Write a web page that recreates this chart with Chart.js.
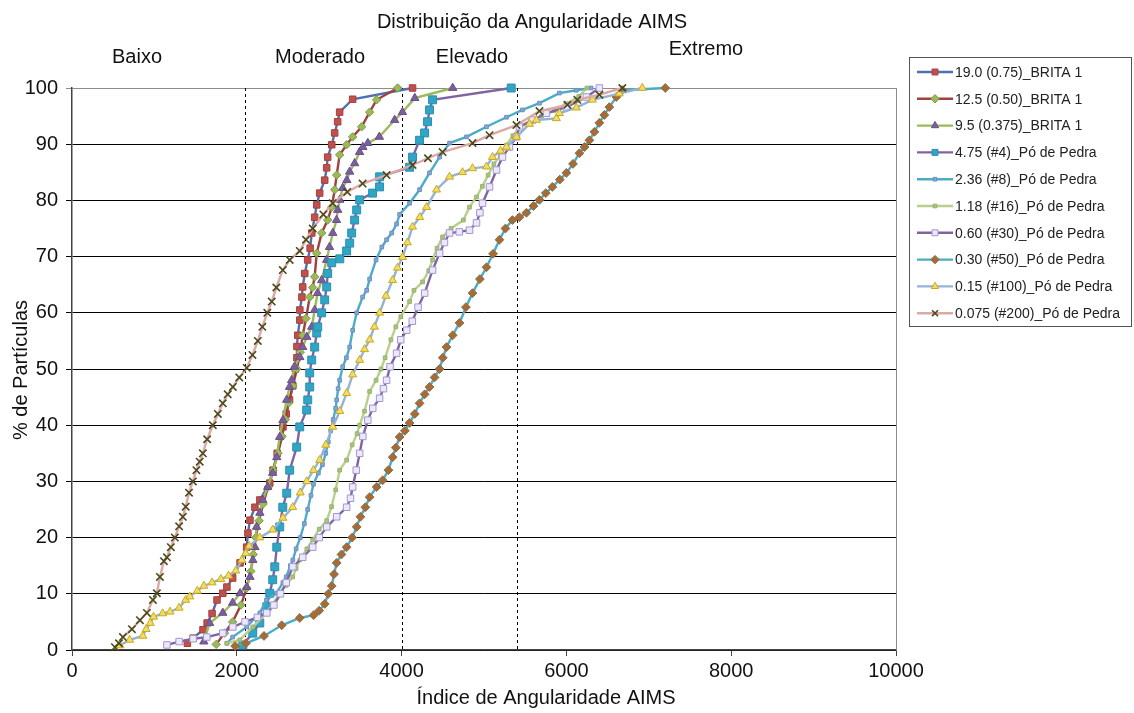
<!DOCTYPE html>
<html lang="pt">
<head>
<meta charset="utf-8">
<title>Distribuição da Angularidade AIMS</title>
<script src="https://cdn.jsdelivr.net/npm/chart.js@4.4.1/dist/chart.umd.min.js"></script>
<style>
  html, body { margin: 0; padding: 0; background: #fff; }
  canvas { display: block; }
</style>
</head>
<body>
<canvas id="grafico" width="1134" height="713"></canvas>
<script>
// pontos [índice de angularidade AIMS, % acumulada de partículas] por fração
const brita190 = [[1400,1.2],[1470,2.1],[1590,3.6],[1640,4.8],[1700,6.5],[1760,8.9],[1830,10.1],[1880,11.2],[1950,12.8],[2040,15.5],[2120,18.3],[2135,20.8],[2160,23.1],[2220,25.4],[2280,26.7],[2400,29.7],[2440,32],[2490,35],[2560,39.7],[2600,42],[2640,44.5],[2680,47],[2710,50],[2730,52],[2730,54],[2740,56],[2765,58.7],[2765,60.5],[2790,62.8],[2800,64.6],[2825,67],[2860,69.4],[2890,71.5],[2910,74.2],[2945,77],[2970,79.2],[3006,81.3],[3067,83.6],[3091,85.8],[3103,87.7],[3152,89.9],[3188,92],[3224,94],[3248,95.7],[3406,98],[4133,100]];
const brita125 = [[1750,1],[1850,3],[1950,5],[2050,8],[2120,11],[2170,14],[2200,17],[2230,20],[2270,23],[2320,26],[2380,29],[2440,32],[2500,35],[2550,38],[2590,41],[2630,44],[2680,47],[2730,50],[2770,53],[2800,56],[2840,59],[2885,62.8],[2920,64.5],[2945,66.4],[2970,70.6],[3030,74.2],[3103,76.5],[3152,78.8],[3188,81.9],[3212,84.5],[3248,88.1],[3333,89.9],[3406,91.3],[3515,93.1],[3612,95.7],[3697,97.9],[3952,100]];
const brita95 = [[1600,1.5],[1670,4.8],[1830,6.6],[1950,8.4],[2040,10.1],[2120,11.2],[2160,13],[2195,16],[2220,18.3],[2240,21.9],[2280,24.4],[2315,26.7],[2375,29],[2435,31.5],[2485,34.3],[2520,37.9],[2560,40.9],[2605,44.5],[2640,46.8],[2665,48],[2700,50.4],[2765,52.1],[2800,53.9],[2850,55.7],[2910,57.5],[2945,60.5],[2980,63.5],[3030,65.8],[3090,69.4],[3125,71.7],[3165,74.2],[3210,76.5],[3225,78.3],[3250,80.1],[3285,82.2],[3335,83.6],[3370,85.1],[3430,86.6],[3490,88.6],[3530,89.5],[3590,90.2],[3730,91.3],[3915,94.3],[4010,95.7],[4160,98.2],[4620,100]];
const po475 = [[2073,0.9],[2194,3],[2279,4.8],[2364,7.7],[2400,10.1],[2436,12.5],[2461,14.8],[2485,18.3],[2521,21.9],[2558,25.4],[2606,27.9],[2642,32],[2727,36.1],[2764,39.7],[2848,42.7],[2861,44.5],[2885,46.8],[2885,49.3],[2909,51.6],[2945,53.9],[2970,56.4],[2982,57.5],[3030,60],[3067,62.3],[3091,64.6],[3103,67],[3152,68.9],[3250,69.6],[3333,71],[3370,72.4],[3394,74.2],[3430,76.5],[3455,78.3],[3491,80.1],[3648,81.3],[3733,82.4],[3733,84.2],[4097,85.9],[4133,87.7],[4218,90.7],[4279,92],[4315,94],[4339,96.1],[4376,97.9],[5330,100]];
const po236 = [[1880,1.2],[1950,2.3],[2120,4.1],[2280,6.6],[2360,8.9],[2480,10.1],[2560,12],[2600,13],[2650,15],[2680,16],[2720,18],[2770,20],[2820,22.5],[2860,25],[2900,27.5],[2930,29.5],[2990,31.5],[3040,33],[3080,35],[3110,37],[3140,39],[3170,41],[3200,43],[3212,44.5],[3230,46.5],[3248,48],[3285,50.4],[3330,52],[3370,53.9],[3406,56.9],[3455,60],[3527,62.8],[3576,64],[3612,66],[3690,69.4],[3760,71.7],[3818,73],[3880,74.2],[3939,75.8],[3976,77.5],[4097,79.5],[4218,81.9],[4339,84.9],[4461,87.7],[4582,90.2],[4788,91.3],[5030,93.1],[5273,94.8],[5467,96.1],[5673,97.3],[5915,99.1],[6120,99.6],[6300,100]];
const po118 = [[1880,1.2],[2036,1.8],[2194,4.1],[2364,6.6],[2521,10.1],[2600,11.5],[2679,13],[2720,14.5],[2764,16],[2850,18],[2921,19.6],[3000,21.5],[3091,23],[3150,25.5],[3200,28.5],[3248,32],[3333,33.8],[3400,36.5],[3460,38.5],[3491,40],[3550,42.5],[3612,46],[3690,48],[3750,50],[3800,52],[3870,55.2],[3930,57.5],[3990,59.3],[4097,62],[4150,64],[4255,65.5],[4330,67.5],[4376,69.4],[4430,71.5],[4497,73.5],[4600,75],[4750,76.5],[4824,78.8],[4909,80.6],[4980,82.5],[5050,84.5],[5120,86.5],[5200,88],[5270,89.8],[5350,91.5],[5430,93],[5560,94],[5700,95],[5850,96],[6000,97.2],[6150,98.5],[6250,100]];
const po060 = [[1152,0.9],[1300,1.5],[1470,2],[1636,2.3],[1830,3],[1952,4.1],[2100,5],[2250,5.8],[2364,6.6],[2450,8],[2530,10],[2600,12],[2680,14.8],[2800,16.5],[2921,18.3],[3000,20],[3091,21.9],[3212,23.7],[3333,25.4],[3380,27],[3406,29],[3450,32],[3491,35],[3530,38],[3590,40.9],[3650,43],[3733,44.8],[3780,46.5],[3818,48],[3860,50.4],[3939,52.8],[3990,55.2],[4061,56.9],[4130,58.5],[4200,61],[4280,63.5],[4376,67.6],[4461,70.6],[4520,72.5],[4582,74.2],[4700,74.4],[4824,74.7],[4909,76],[4950,77.8],[4982,79.5],[5067,82.4],[5152,85.4],[5224,87.7],[5309,89.5],[5394,91.3],[5430,93.1],[5588,94.3],[5758,95.5],[6000,96.6],[6242,98.4],[6400,100]];
const po030 = [[1980,0.7],[2110,1.2],[2330,2.5],[2545,4.4],[2764,5.7],[2933,6.2],[3000,7],[3067,8.2],[3110,10],[3152,11.4],[3180,13.5],[3212,15.5],[3270,17],[3333,18.3],[3400,20],[3455,21.9],[3500,23.7],[3560,25.4],[3612,27.2],[3697,29],[3770,30.2],[3840,32],[3891,34.3],[3930,36],[3976,37.9],[4040,39],[4097,40.4],[4160,42],[4218,43.9],[4280,45.5],[4339,46.8],[4400,48.5],[4461,50],[4500,52],[4545,53.9],[4620,56],[4703,58.2],[4780,61],[4861,63.5],[4950,66],[5030,68.1],[5110,70.5],[5188,73],[5260,75],[5345,76.5],[5430,77],[5515,77.8],[5600,79],[5673,80.1],[5750,81.3],[5830,82.4],[5920,83.7],[6000,84.9],[6080,86.5],[6158,88.4],[6220,89.5],[6279,90.7],[6340,92.2],[6400,93.8],[6460,95.2],[6521,96.6],[6606,98.4],[6679,99.6],[7200,100]];
const po015 = [[580,0.8],[700,1.8],[860,2.5],[900,3.7],[950,4.8],[990,5.9],[1100,6.5],[1190,6.8],[1300,7.5],[1380,8.9],[1430,9.5],[1520,10.5],[1600,11.4],[1700,12],[1806,12.6],[1900,13.2],[1988,14.1],[2061,16],[2109,17.2],[2150,18.5],[2279,20],[2436,21.4],[2560,23.5],[2679,25.4],[2770,28],[2848,30],[2930,32],[3006,33.8],[3080,36.5],[3164,39.7],[3250,42.5],[3333,45.7],[3406,49],[3491,51.6],[3550,53.5],[3612,55.2],[3670,57.5],[3733,60],[3810,63],[3891,65.8],[3950,68],[4012,69.9],[4070,72.5],[4133,75.3],[4220,77],[4303,78.8],[4424,81.9],[4582,84.2],[4739,85],[4861,85.7],[5030,86],[5103,87.7],[5200,88.8],[5273,89.5],[5394,91.3],[5552,93.6],[5636,94.3],[5879,94.6],[5915,95.5],[6120,96.5],[6315,97.9],[6642,99],[6921,100]];
const po0075 = [[521,0.5],[570,1.2],[618,2.3],[727,3.7],[824,5.3],[909,6.6],[982,8.9],[1030,10.1],[1067,13],[1115,15.8],[1152,16.5],[1200,18.3],[1248,20],[1300,22],[1345,23.7],[1380,25.5],[1420,28],[1467,30],[1510,32],[1550,33.5],[1588,35],[1640,37.5],[1709,40],[1770,42],[1830,43.9],[1890,45.5],[1952,46.8],[2030,48.5],[2121,50.2],[2190,52.5],[2255,55],[2310,57.5],[2370,60],[2424,62],[2480,64.5],[2558,67.6],[2642,69.4],[2764,71],[2840,73],[2921,75],[3050,77.5],[3164,79.5],[3340,81.5],[3527,83],[3818,84.5],[4133,86.3],[4320,87.5],[4497,88.6],[4861,90.2],[5067,91.6],[5394,93.4],[5673,95.9],[6012,97],[6133,97.9],[6400,98.8],[6679,100]];

const nomes = [
  '19.0 (0.75)_BRITA 1', '12.5 (0.50)_BRITA 1', '9.5 (0.375)_BRITA 1',
  '4.75 (#4)_Pó de Pedra', '2.36 (#8)_Pó de Pedra', '1.18 (#16)_Pó de Pedra',
  '0.60 (#30)_Pó de Pedra', '0.30 (#50)_Pó de Pedra', '0.15 (#100)_Pó de Pedra',
  '0.075 (#200)_Pó de Pedra'
];
const series = [brita190, brita125, brita95, po475, po236, po118, po060, po030, po015, po0075];

// limites das classes de angularidade e seus rótulos
const limitesClasse = [2100, 4000, 5400];
const classes = ['Baixo', 'Moderado', 'Elevado', 'Extremo'];

// estilo de cada série: cor da linha, marcador
const estilos = [
  { linha: '#4F6FB0', marc: 'rect',     r: 4.6, fundo: '#C0504D', borda: '#A8403D' },
  { linha: '#A0413D', marc: 'rectRot',  r: 4.2, fundo: '#9BBB59', borda: '#7E9A45' },
  { linha: '#9BBB59', marc: 'triangle', r: 4.8, fundo: '#7A5E9E', borda: '#6A4F8C' },
  { linha: '#8064A2', marc: 'rect',     r: 5.6, fundo: '#31A6C4', borda: '#2A8EB0' },
  { linha: '#4BACC6', marc: 'rect',     r: 2.6, fundo: '#86A6D6', borda: '#6D8FC2' },
  { linha: '#B8D08C', marc: 'rect',     r: 2.6, fundo: '#A9C47E', borda: '#98B46C' },
  { linha: '#8064A2', marc: 'rect',     r: 4.6, fundo: '#ECE8F8', borda: '#A096D4' },
  { linha: '#4BACC6', marc: 'rectRot',  r: 4.4, fundo: '#A86B35', borda: '#86704A' },
  { linha: '#95B3D7', marc: 'triangle', r: 4.6, fundo: '#EEDC70', borda: '#CDAA10' },
  { linha: '#DDA8A6', marc: 'crossRot', r: 5.2, fundo: '#4A4A1C', borda: '#4A4A1C' }
];

const fonte = '"Liberation Sans", Arial, sans-serif';

const datasets = series.map((pts, i) => ({
  label: nomes[i],
  data: pts.map(([x, y]) => ({ x, y })),
  showLine: true,
  borderColor: estilos[i].linha,
  borderWidth: 2.4,
  pointStyle: estilos[i].marc,
  pointRadius: estilos[i].r,
  pointBackgroundColor: estilos[i].fundo,
  pointBorderColor: estilos[i].borda,
  pointBorderWidth: estilos[i].marc === 'crossRot' ? 1.6 : 1,
  tension: 0,
  clip: false,
  order: 10 - i
}));

function marcador(ctx, estilo, x, y, r) {
  ctx.beginPath();
  if (estilo === 'rect') {
    const s = r * Math.SQRT1_2;
    ctx.rect(x - s, y - s, 2 * s, 2 * s);
  } else if (estilo === 'rectRot') {
    ctx.moveTo(x - r, y); ctx.lineTo(x, y - r); ctx.lineTo(x + r, y); ctx.lineTo(x, y + r); ctx.closePath();
  } else if (estilo === 'triangle') {
    for (let k = 0; k < 3; k++) {
      const a = k * 2 * Math.PI / 3;
      const px = x + Math.sin(a) * r, py = y - Math.cos(a) * r;
      k ? ctx.lineTo(px, py) : ctx.moveTo(px, py);
    }
    ctx.closePath();
  } else if (estilo === 'crossRot') {
    const d = r * Math.SQRT1_2;
    ctx.moveTo(x - d, y - d); ctx.lineTo(x + d, y + d);
    ctx.moveTo(x + d, y - d); ctx.lineTo(x - d, y + d);
    ctx.stroke();
    return;
  }
  ctx.fill();
  ctx.stroke();
}

const fundoBranco = {
  id: 'fundoBranco',
  beforeDraw(chart) {
    const c = chart.ctx;
    c.save();
    c.fillStyle = '#fff';
    c.fillRect(0, 0, chart.width, chart.height);
    c.restore();
  }
};

// linhas tracejadas dos limites de classe
const limites = {
  id: 'limites',
  beforeDatasetsDraw(chart) {
    const c = chart.ctx, xs = chart.scales.x, a = chart.chartArea;
    c.save();
    c.strokeStyle = '#000';
    c.lineWidth = 1;
    c.setLineDash([3, 3]);
    limitesClasse.forEach(v => {
      const px = Math.round(xs.getPixelForValue(v)) + 0.5;
      c.beginPath();
      c.moveTo(px, a.top);
      c.lineTo(px, a.bottom);
      c.stroke();
    });
    c.setLineDash([]);
    // borda direita da área do gráfico
    c.strokeStyle = '#8c8c8c';
    c.beginPath();
    c.moveTo(Math.round(a.right) + 0.5, a.top);
    c.lineTo(Math.round(a.right) + 0.5, a.bottom);
    c.stroke();
    c.restore();
  }
};

// títulos, rótulos das classes e legenda
const textos = {
  id: 'textos',
  afterDraw(chart) {
    const c = chart.ctx;
    c.save();
    c.fillStyle = '#111';
    c.textAlign = 'center';
    c.textBaseline = 'middle';
    c.font = '20px ' + fonte;
    c.fillText('Distribuição da Angularidade AIMS', 532, 22);
    c.fillText(classes[0], 137, 57);
    c.fillText(classes[1], 320, 57);
    c.fillText(classes[2], 472, 57);
    c.fillText(classes[3], 706, 49);
    c.fillText('Índice de Angularidade AIMS', 546, 698);
    c.save();
    c.translate(21, 370);
    c.rotate(-Math.PI / 2);
    c.fillText('% de Partículas', 0, 0);
    c.restore();

    // legenda
    c.strokeStyle = '#555';
    c.lineWidth = 1;
    c.strokeRect(909.5, 57.5, 222, 269);
    c.textAlign = 'left';
    c.font = '14px ' + fonte;
    nomes.forEach((nome, i) => {
      const y = 72 + i * 26.8;
      const e = estilos[i];
      c.strokeStyle = e.linha;
      c.lineWidth = 2.4;
      c.beginPath();
      c.moveTo(917, y);
      c.lineTo(953, y);
      c.stroke();
      c.fillStyle = e.fundo;
      c.strokeStyle = e.borda;
      c.lineWidth = e.marc === 'crossRot' ? 1.6 : 1;
      marcador(c, e.marc, 935, y, Math.min(e.r, 4.2));
      c.fillStyle = '#222';
      c.fillText(nome, 955, y + 1);
    });
    c.restore();
  }
};

new Chart(document.getElementById('grafico'), {
  type: 'scatter',
  data: { datasets },
  options: {
    responsive: false,
    animation: false,
    events: [],
    layout: { padding: { left: 0, top: 88, right: 238, bottom: 0 } },
    plugins: { legend: { display: false }, tooltip: { enabled: false } },
    scales: {
      x: {
        type: 'linear',
        min: 0,
        max: 10000,
        afterFit: s => { s.height = 63; },
        ticks: {
          stepSize: 2000,
          color: '#111',
          font: { size: 20, family: fonte },
          padding: 3,
          maxRotation: 0,
          callback: v => String(v)
        },
        grid: { drawOnChartArea: false, tickLength: 6, color: '#444' },
        border: { color: '#444', width: 1.5 }
      },
      y: {
        min: 0,
        max: 100,
        afterFit: s => { s.width = 72; },
        ticks: { stepSize: 10, color: '#111', font: { size: 20, family: fonte }, padding: 8, callback: v => String(v) },
        grid: {
          color: ctx => ctx.tick && ctx.tick.value === 100 ? '#8c8c8c' : '#000',
          tickLength: 6,
          lineWidth: 1
        },
        border: { color: '#444', width: 1.5 }
      }
    }
  },
  plugins: [fundoBranco, limites, textos]
});
</script>
</body>
</html>
